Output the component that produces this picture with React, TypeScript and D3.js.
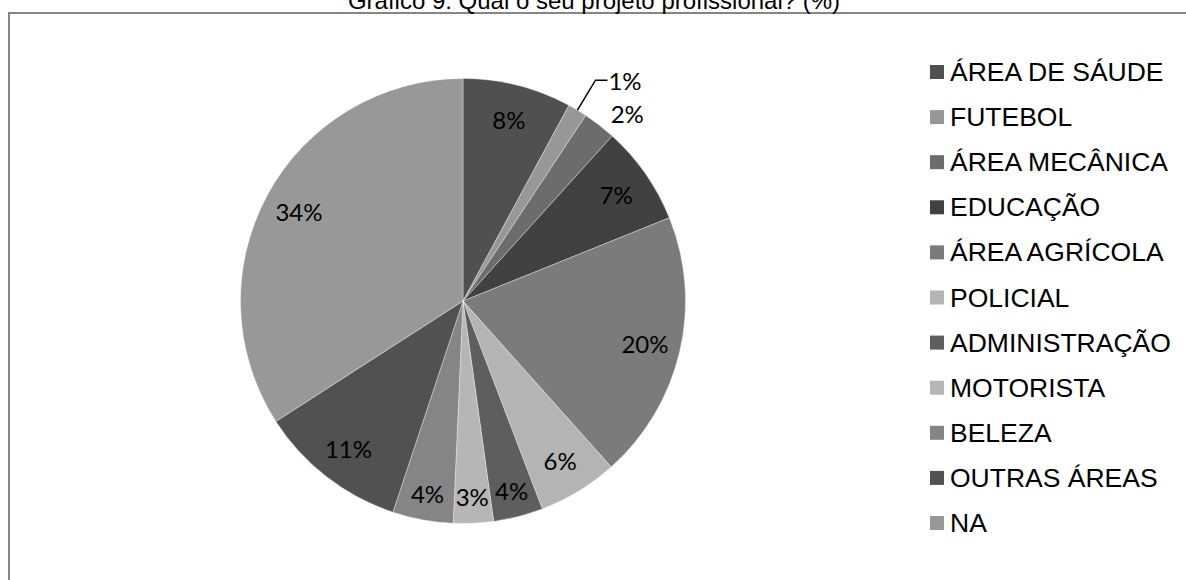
import React from "react";
import * as d3 from "d3";

const categories = [
  "ÁREA DE SÁUDE",
  "FUTEBOL",
  "ÁREA MECÂNICA",
  "EDUCAÇÃO",
  "ÁREA AGRÍCOLA",
  "POLICIAL",
  "ADMINISTRAÇÃO",
  "MOTORISTA",
  "BELEZA",
  "OUTRAS ÁREAS",
  "NA",
];
const values = [7.9, 1.4, 2.4, 7.2, 19.5, 5.8, 3.6, 2.9, 4.4, 10.8, 34.1];
const colors = [
  "#505050",
  "#979797",
  "#6c6c6c",
  "#414141",
  "#7b7b7b",
  "#b4b4b4",
  "#5e5e5e",
  "#b6b6b6",
  "#858585",
  "#515151",
  "#989898",
];
const title = "Gráfico 9: Qual o seu projeto profissional? (%)";

const W = 1186;
const H = 580;
const cx = 463;
const cy = 301;
const R = 222.5;

export default function App() {
  const pie = d3.pie<number>().sort(null).value((d) => d);
  const arcs = pie(values);
  const arcGen = d3.arc<d3.PieArcDatum<number>>().innerRadius(0).outerRadius(R);
  const labelFont = "Lato, 'Open Sans', sans-serif";
  const labelSize = 24;

  const labels = arcs.map((a, i) => {
    const mid = (a.startAngle + a.endAngle) / 2;
    const v = values[i];
    const text = `${Math.round(v)}%`;
    if (v < 2) {
      const ex = Math.sin(mid) * R;
      const ey = -Math.cos(mid) * R;
      const bx = Math.sin(mid) * (R + 35);
      const by = -Math.cos(mid) * (R + 35);
      return (
        <g key={i}>
          <polyline
            points={`${cx + ex},${cy + ey} ${cx + bx},${cy + by} ${cx + bx + 12},${cy + by}`}
            fill="none"
            stroke="#000"
            strokeWidth={1.5}
          />
          <text
            x={cx + bx + 13}
            y={cy + by}
            dominantBaseline="central"
            fontFamily={labelFont}
            fontSize={labelSize}
            fill="#000"
          >
            {text}
          </text>
        </g>
      );
    }
    let r = R * 0.84;
    let ang = mid;
    if (v < 2.5) {
      r = R * 1.12;
      ang = mid + 0.06;
    } else if (v < 5) {
      r = R * 0.88;
    }
    return (
      <text
        key={i}
        x={cx + Math.sin(ang) * r}
        y={cy - Math.cos(ang) * r}
        textAnchor="middle"
        dominantBaseline="central"
        fontFamily={labelFont}
        fontSize={labelSize}
        fill="#000"
      >
        {text}
      </text>
    );
  });

  const legendY = d3
    .scalePoint<string>()
    .domain(categories)
    .range([72, 523]);

  return (
    <svg
      width={W}
      height={H}
      style={{ position: "absolute", left: 0, top: 0, background: "#fff" }}
    >
      <rect x={9} y={13} width={1200} height={600} fill="#fff" stroke="#868686" strokeWidth={2} />
      <text
        x={594}
        y={9}
        textAnchor="middle"
        fontFamily="'Liberation Sans', Arial, sans-serif"
        fontSize={24}
        fill="#000"
      >
        {title}
      </text>
      <g>
        {arcs.map((a, i) => (
          <path
            key={i}
            d={arcGen(a) || ""}
            transform={`translate(${cx},${cy})`}
            fill={colors[i]}
            stroke="#fff"
            strokeWidth={0.6}
            strokeOpacity={0.6}
          />
        ))}
      </g>
      {labels}
      <g>
        {categories.map((c, i) => {
          const y = legendY(c) || 0;
          return (
            <g key={c}>
              <rect x={930} y={y - 7} width={14} height={14} fill={colors[i]} />
              <text
                x={950}
                y={y}
                dominantBaseline="central"
                fontFamily="'Liberation Sans', Arial, sans-serif"
                fontSize={26.5}
                fill="#000"
              >
                {c}
              </text>
            </g>
          );
        })}
      </g>
    </svg>
  );
}
